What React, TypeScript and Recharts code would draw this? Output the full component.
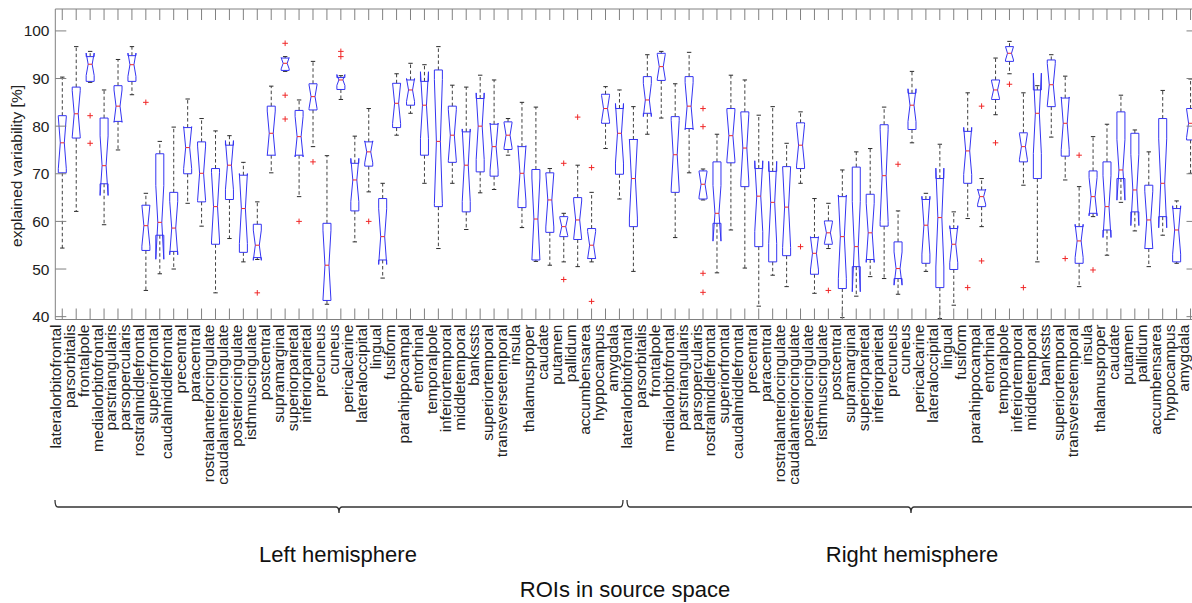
import React from "react";
import { ComposedChart, Bar, Scatter, XAxis, YAxis } from "recharts";

// 41 ROIs per hemisphere, left hemisphere first
const regions = [
  "lateralorbitofrontal", "parsorbitalis", "frontalpole", "medialorbitofrontal", "parstriangularis",
  "parsopercularis", "rostralmiddlefrontal", "superiorfrontal", "caudalmiddlefrontal", "precentral",
  "paracentral", "rostralanteriorcingulate", "caudalanteriorcingulate", "posteriorcingulate", "isthmuscingulate",
  "postcentral", "supramarginal", "superiorparietal", "inferiorparietal", "precuneus",
  "cuneus", "pericalcarine", "lateraloccipital", "lingual", "fusiform",
  "parahippocampal", "entorhinal", "temporalpole", "inferiortemporal", "middletemporal",
  "bankssts", "superiortemporal", "transversetemporal", "insula", "thalamusproper",
  "caudate", "putamen", "pallidum", "accumbensarea", "hyppocampus", "amygdala",
];
const roiLabels = [...regions, ...regions];

const whiskerLow = [
  54.4, 62.1, 89.2, 59.3, 75.0, 86.6, 45.5, 49.0, 50.0, 63.8,
  59.0, 45.0, 56.4, 51.5, 52.0, 70.2, 91.5, 65.2, 75.7, 42.6,
  85.6, 55.7, 66.2, 48.1, 78.1, 82.7, 68.0, 54.3, 68.0, 58.3,
  66.0, 66.7, 73.9, 58.7, 51.6, 50.8, 51.5, 50.5, 51.5, 75.3, 64.7,
  49.5, 78.3, 81.7, 56.6, 70.2, 64.5, 49.2, 58.2, 50.2, 42.2,
  48.7, 46.3, 68.0, 44.9, 54.3, 39.8, 44.3, 48.4, 48.0, 44.7,
  76.5, 49.5, 39.6, 42.4, 60.6, 58.9, 82.4, 91.0, 67.6, 51.5,
  77.7, 68.7, 46.3, 61.0, 52.9, 64.0, 58.0, 50.5, 57.1, 51.2, 70.1,
];
const lowerQuartile = [
  70.2, 77.5, 89.4, 67.9, 81.0, 89.4, 53.9, 57.1, 53.7, 70.0,
  64.1, 55.2, 64.6, 53.5, 52.4, 73.9, 91.7, 73.9, 83.4, 43.4,
  87.7, 62.2, 71.6, 51.9, 79.7, 84.4, 73.9, 63.1, 72.4, 62.0,
  70.4, 69.5, 75.1, 62.9, 51.9, 57.7, 56.8, 56.2, 52.2, 80.6, 69.9,
  58.9, 82.7, 89.6, 66.1, 79.5, 64.7, 59.6, 72.3, 67.3, 54.7,
  51.5, 52.8, 71.1, 48.9, 55.2, 45.9, 50.5, 52.0, 59.0, 48.0,
  79.3, 51.2, 46.1, 49.9, 68.0, 63.1, 85.6, 93.6, 72.5, 69.0,
  84.1, 73.7, 51.2, 61.7, 58.2, 69.0, 62.0, 54.3, 61.0, 51.5, 77.1,
];
const medians = [
  76.5, 82.6, 93.0, 71.7, 84.2, 92.9, 59.1, 59.8, 58.6, 75.5,
  70.1, 63.1, 71.8, 62.7, 55.0, 78.5, 93.2, 77.8, 86.2, 50.8,
  89.7, 68.7, 74.6, 56.8, 84.8, 87.6, 84.4, 76.8, 78.1, 71.8,
  80.0, 75.7, 78.1, 70.1, 60.5, 64.5, 58.9, 60.3, 55.0, 83.7, 78.5,
  69.0, 85.5, 92.5, 74.0, 84.2, 67.8, 61.7, 78.0, 75.4, 65.3,
  64.0, 63.0, 76.0, 53.3, 57.6, 56.8, 54.7, 57.6, 69.6, 50.1,
  84.4, 59.2, 60.8, 55.2, 74.8, 65.2, 87.6, 95.3, 75.7, 82.7,
  88.7, 80.6, 55.9, 65.2, 63.1, 70.8, 66.6, 60.3, 68.0, 58.2, 80.6,
];
const upperQuartile = [
  82.2, 88.2, 94.6, 81.7, 88.5, 94.8, 63.4, 74.2, 66.1, 79.7,
  76.7, 71.1, 76.0, 69.7, 59.4, 84.2, 94.3, 83.3, 88.9, 59.6,
  90.2, 72.2, 76.7, 64.8, 89.0, 89.7, 89.4, 91.8, 84.2, 78.8,
  85.8, 80.4, 80.9, 75.7, 70.9, 70.2, 61.0, 65.0, 58.5, 86.7, 83.7,
  77.2, 90.4, 95.3, 82.0, 90.4, 70.6, 72.5, 83.7, 83.0, 71.1,
  70.5, 71.5, 80.7, 56.6, 60.1, 65.2, 71.4, 65.7, 80.3, 55.7,
  86.9, 64.6, 69.0, 58.5, 78.9, 66.6, 89.7, 96.7, 78.6, 87.6,
  93.9, 85.9, 58.9, 70.6, 72.5, 83.0, 78.5, 67.6, 81.6, 62.7, 83.7,
];
const whiskerHigh = [
  90.3, 96.7, 95.7, 87.6, 94.0, 96.7, 65.9, 76.8, 79.8, 85.7,
  81.6, 79.0, 78.0, 72.4, 64.1, 88.4, 94.6, 85.5, 93.6, 73.8,
  90.6, 77.9, 83.7, 68.0, 91.0, 93.2, 92.9, 96.7, 88.6, 88.2,
  90.7, 89.7, 81.6, 85.0, 84.0, 71.1, 61.7, 71.8, 66.1, 88.3, 87.6,
  84.1, 95.0, 95.7, 88.9, 95.5, 71.0, 78.3, 90.7, 89.7, 82.3,
  84.1, 76.4, 83.0, 64.8, 63.8, 70.8, 74.6, 75.3, 84.0, 62.2,
  91.5, 65.9, 76.2, 62.0, 87.0, 69.0, 94.3, 97.8, 87.0, 88.5,
  95.0, 90.5, 67.3, 77.8, 80.4, 86.5, 79.2, 74.6, 87.5, 64.3, 89.9,
];

// [box index, value]
const outliers: [number, number][] = [
  [2, 82.2], [2, 76.4], [6, 85.0], [14, 45.0], [16, 97.4], [16, 86.5], [16, 81.5],
  [17, 60.0], [18, 72.5], [20, 95.7], [20, 94.6], [22, 60.0], [36, 72.2], [36, 47.8],
  [37, 81.9], [38, 71.3], [38, 43.2], [46, 83.7], [46, 79.9], [46, 49.1], [46, 45.1],
  [53, 54.7], [55, 45.5], [60, 72.0], [65, 46.1], [66, 84.2], [66, 51.7], [67, 76.5],
  [68, 88.8], [69, 46.1], [72, 52.2], [73, 73.9], [74, 49.8],
];

const yTicks = [40, 50, 60, 70, 80, 90, 100];
const yDomain: [number, number] = [39.4, 104.6];
const SAMPLES = 12; // subjects per box, drives the notch size

const BLUE = "#3434f2";
const RED = "#f02828";
const WHISKER = "#2b2b2b";
const AXIS = "#808080";
const TEXT = "#222";

const data = roiLabels.map((name, i) => {
  const row: any = {
    idx: i,
    name,
    range: [whiskerLow[i], whiskerHigh[i]],
    q1: lowerQuartile[i],
    med: medians[i],
    q3: upperQuartile[i],
  };
  outliers
    .filter((o) => o[0] === i)
    .forEach((o, k) => {
      row["out" + (k + 1)] = o[1];
    });
  return row;
});

const BoxShape = (props: any) => {
  const { x, y, width, height, payload } = props;
  if (!payload || !isFinite(x) || !isFinite(y)) return <g />;
  const [lo, hi] = payload.range;
  const top = Math.min(y, y + height);
  const bottom = Math.max(y, y + height);
  const perUnit = (bottom - top) / (hi - lo);
  const py = (v: number) => bottom - (v - lo) * perUnit;
  const cx = x + width / 2;
  const hw = width / 2;
  const nw = width / 4;
  const cw = 2.2;
  const { q1, med, q3 } = payload;
  const notch = (1.57 * (q3 - q1)) / Math.sqrt(SAMPLES);
  const pts = [
    [cx - hw, py(q1)], [cx - hw, py(med - notch)], [cx - nw, py(med)], [cx - hw, py(med + notch)], [cx - hw, py(q3)],
    [cx + hw, py(q3)], [cx + hw, py(med + notch)], [cx + nw, py(med)], [cx + hw, py(med - notch)], [cx + hw, py(q1)],
  ]
    .map((p) => p[0] + "," + p[1])
    .join(" ");
  return (
    <g>
      {hi > q3 && (
        <line x1={cx} x2={cx} y1={py(q3)} y2={py(hi)} stroke={WHISKER} strokeWidth={0.9} strokeDasharray="3.5 2.5" />
      )}
      {lo < q1 && (
        <line x1={cx} x2={cx} y1={py(q1)} y2={py(lo)} stroke={WHISKER} strokeWidth={0.9} strokeDasharray="3.5 2.5" />
      )}
      <line x1={cx - cw} x2={cx + cw} y1={py(hi)} y2={py(hi)} stroke={WHISKER} strokeWidth={1} />
      <line x1={cx - cw} x2={cx + cw} y1={py(lo)} y2={py(lo)} stroke={WHISKER} strokeWidth={1} />
      <polygon points={pts} fill="none" stroke={BLUE} strokeWidth={1} />
      <line x1={cx - nw} x2={cx + nw} y1={py(med)} y2={py(med)} stroke={RED} strokeWidth={1} />
    </g>
  );
};

const makeCross = (key: string) => (props: any) => {
  const { cx, cy, payload } = props;
  if (!payload || payload[key] == null || !isFinite(cx) || !isFinite(cy)) return <g />;
  return (
    <g stroke={RED} strokeWidth={1}>
      <line x1={cx - 2.8} x2={cx + 2.8} y1={cy} y2={cy} />
      <line x1={cx} x2={cx} y1={cy - 2.8} y2={cy + 2.8} />
    </g>
  );
};

const NoTick = () => <g />;

const RoiTick = (props: any) => {
  const { x, y, payload } = props;
  const tx = x - 1.5;
  return (
    <text x={tx} y={y} transform={`rotate(-90 ${tx} ${y})`} textAnchor="end" fontSize={15.5} fill={TEXT}>
      {roiLabels[payload.value]}
    </text>
  );
};

const bracePath = (x0: number, x1: number, y: number) => {
  const mid = (x0 + x1) / 2;
  return `M${x0},${y - 7} Q${x0},${y} ${x0 + 3},${y} L${mid - 3},${y} Q${mid},${y} ${mid},${y + 6} Q${mid},${y} ${mid + 3},${y} L${x1 - 3},${y} Q${x1},${y} ${x1},${y - 7}`;
};

export default function App() {
  return (
    <div
      style={{
        position: "absolute",
        left: 0,
        top: 0,
        width: 1192,
        height: 603,
        overflow: "hidden",
        background: "#fff",
        fontFamily: '"Liberation Sans", Arial, sans-serif',
      }}
    >
      <ComposedChart width={1198.5} height={603} data={data} margin={{ top: 8, right: 0, bottom: 0, left: 0 }}>
        <XAxis
          xAxisId="bottom"
          dataKey="idx"
          type="category"
          scale="band"
          interval={0}
          height={283.5}
          tickSize={-11}
          tickMargin={16}
          tick={RoiTick}
          axisLine={{ stroke: AXIS }}
          tickLine={{ stroke: AXIS }}
        />
        <XAxis
          xAxisId="top"
          orientation="top"
          dataKey="idx"
          type="category"
          scale="band"
          interval={0}
          height={1}
          tickSize={-11}
          tick={NoTick}
          axisLine={{ stroke: AXIS }}
          tickLine={{ stroke: AXIS }}
        />
        <YAxis
          yAxisId="left"
          type="number"
          domain={yDomain}
          ticks={yTicks}
          interval={0}
          allowDataOverflow
          width={55.3}
          tickSize={-11}
          tickMargin={16.8}
          axisLine={{ stroke: AXIS }}
          tickLine={{ stroke: AXIS }}
          tick={{ fill: TEXT, fontSize: 15.5 }}
        />
        <YAxis
          yAxisId="right"
          orientation="right"
          type="number"
          domain={yDomain}
          ticks={yTicks}
          interval={0}
          allowDataOverflow
          width={1}
          tickSize={-11}
          tick={NoTick}
          axisLine={{ stroke: AXIS }}
          tickLine={{ stroke: AXIS }}
        />
        <Bar xAxisId="bottom" yAxisId="left" dataKey="range" barSize={8} shape={BoxShape} isAnimationActive={false} />
        <Scatter xAxisId="top" yAxisId="right" dataKey="out1" shape={makeCross("out1")} isAnimationActive={false} />
        <Scatter xAxisId="bottom" yAxisId="left" dataKey="out2" shape={makeCross("out2")} isAnimationActive={false} />
        <Scatter xAxisId="bottom" yAxisId="left" dataKey="out3" shape={makeCross("out3")} isAnimationActive={false} />
        <Scatter xAxisId="bottom" yAxisId="left" dataKey="out4" shape={makeCross("out4")} isAnimationActive={false} />
      </ComposedChart>

      <svg width={1192} height={603} style={{ position: "absolute", left: 0, top: 0, pointerEvents: "none" }}>
        <text transform="rotate(-90)" x={-166} y={22} textAnchor="middle" fontSize={15.5} fill={TEXT}>
          explained variability [%]
        </text>
        <path d={bracePath(55, 623, 507)} fill="none" stroke="#333" strokeWidth={1.3} />
        <path d={bracePath(627, 1195, 507)} fill="none" stroke="#333" strokeWidth={1.3} />
        <text x={338} y={562} textAnchor="middle" fontSize={22} fill="#111">
          Left hemisphere
        </text>
        <text x={912} y={562} textAnchor="middle" fontSize={22} fill="#111">
          Right hemisphere
        </text>
        <text x={625} y={597} textAnchor="middle" fontSize={22} fill="#111">
          ROIs in source space
        </text>
      </svg>
    </div>
  );
}
